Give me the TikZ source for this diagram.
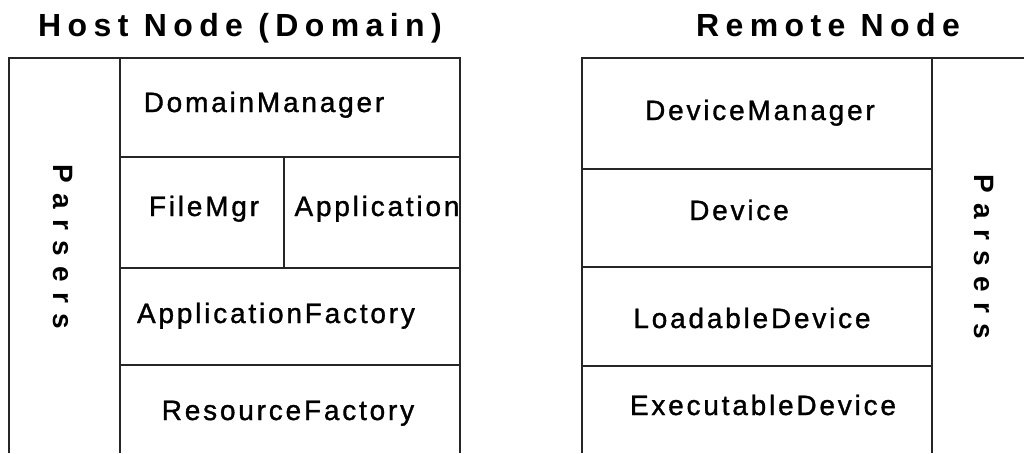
\documentclass[tikz,border=0pt]{standalone}
\usepackage{fontspec}
\setmainfont{Liberation Sans}
\newfontfamily\titlefont{Liberation Sans}[LetterSpace=20]
\newfontfamily\cellfont{Liberation Sans}[LetterSpace=10, FakeBold=1.2]
\newfontfamily\sidefont{Liberation Sans}[LetterSpace=37]
\tikzset{
  frame/.style={line width=1.4pt, draw=black!85},
  heading/.style={inner sep=0pt, anchor=base, font=\titlefont\bfseries\fontsize{32}{38}\selectfont},
  cell/.style={inner sep=0pt, anchor=base, font=\cellfont\fontsize{28}{34}\selectfont},
  side/.style={inner sep=0pt, rotate=-90, font=\sidefont\bfseries\fontsize{28}{32}\selectfont}
}
\begin{document}
\begin{tikzpicture}[x=1pt, y=-1pt]
\useasboundingbox (0,0) rectangle (1024,453);

% host node frame: open at the bottom
\coordinate (hTL) at (9,58);
\coordinate (hTR) at (460,58);
\draw[frame] (9,453) -- (hTL) -- (hTR) -- (460,453);
\draw[frame] (120,58) -- (120,453);
\draw[frame] (120,157) -- (460,157);
\draw[frame] (120,268) -- (460,268);
\draw[frame] (120,365) -- (460,365);
\draw[frame] (284,157) -- (284,268);

% remote node frame: runs off the right edge
\coordinate (rTL) at (582,58);
\draw[frame] (582,453) -- (rTL) -- (1024,58);
\draw[frame] (932,58) -- (932,453);
\draw[frame] (582,169) -- (932,169);
\draw[frame] (582,267) -- (932,267);
\draw[frame] (582,366) -- (932,366);

% headings
\node[heading] (hostT) at (240,36) {Host Node (Domain)};
\node[heading] (remT) at (828,36) {Remote Node};

% host node contents
\node[side] (hpars) at (63,247) {Parsers};
\node[cell] (dm) at (264,112) {DomainManager};
\node[cell] (fm) at (204,216) {FileMgr};
\node[cell] (app) at (377,216) {Application};
\node[cell] (af) at (276,323) {ApplicationFactory};
\node[cell] (rf) at (288,420) {ResourceFactory};

% remote node contents
\node[side] (rpars) at (984,257) {Parsers};
\node[cell] (devm) at (760,120) {DeviceManager};
\node[cell] (dev) at (739,220) {Device};
\node[cell] (ld) at (752,328) {LoadableDevice};
\node[cell] (ed) at (763,415) {ExecutableDevice};
\end{tikzpicture}
\end{document}
